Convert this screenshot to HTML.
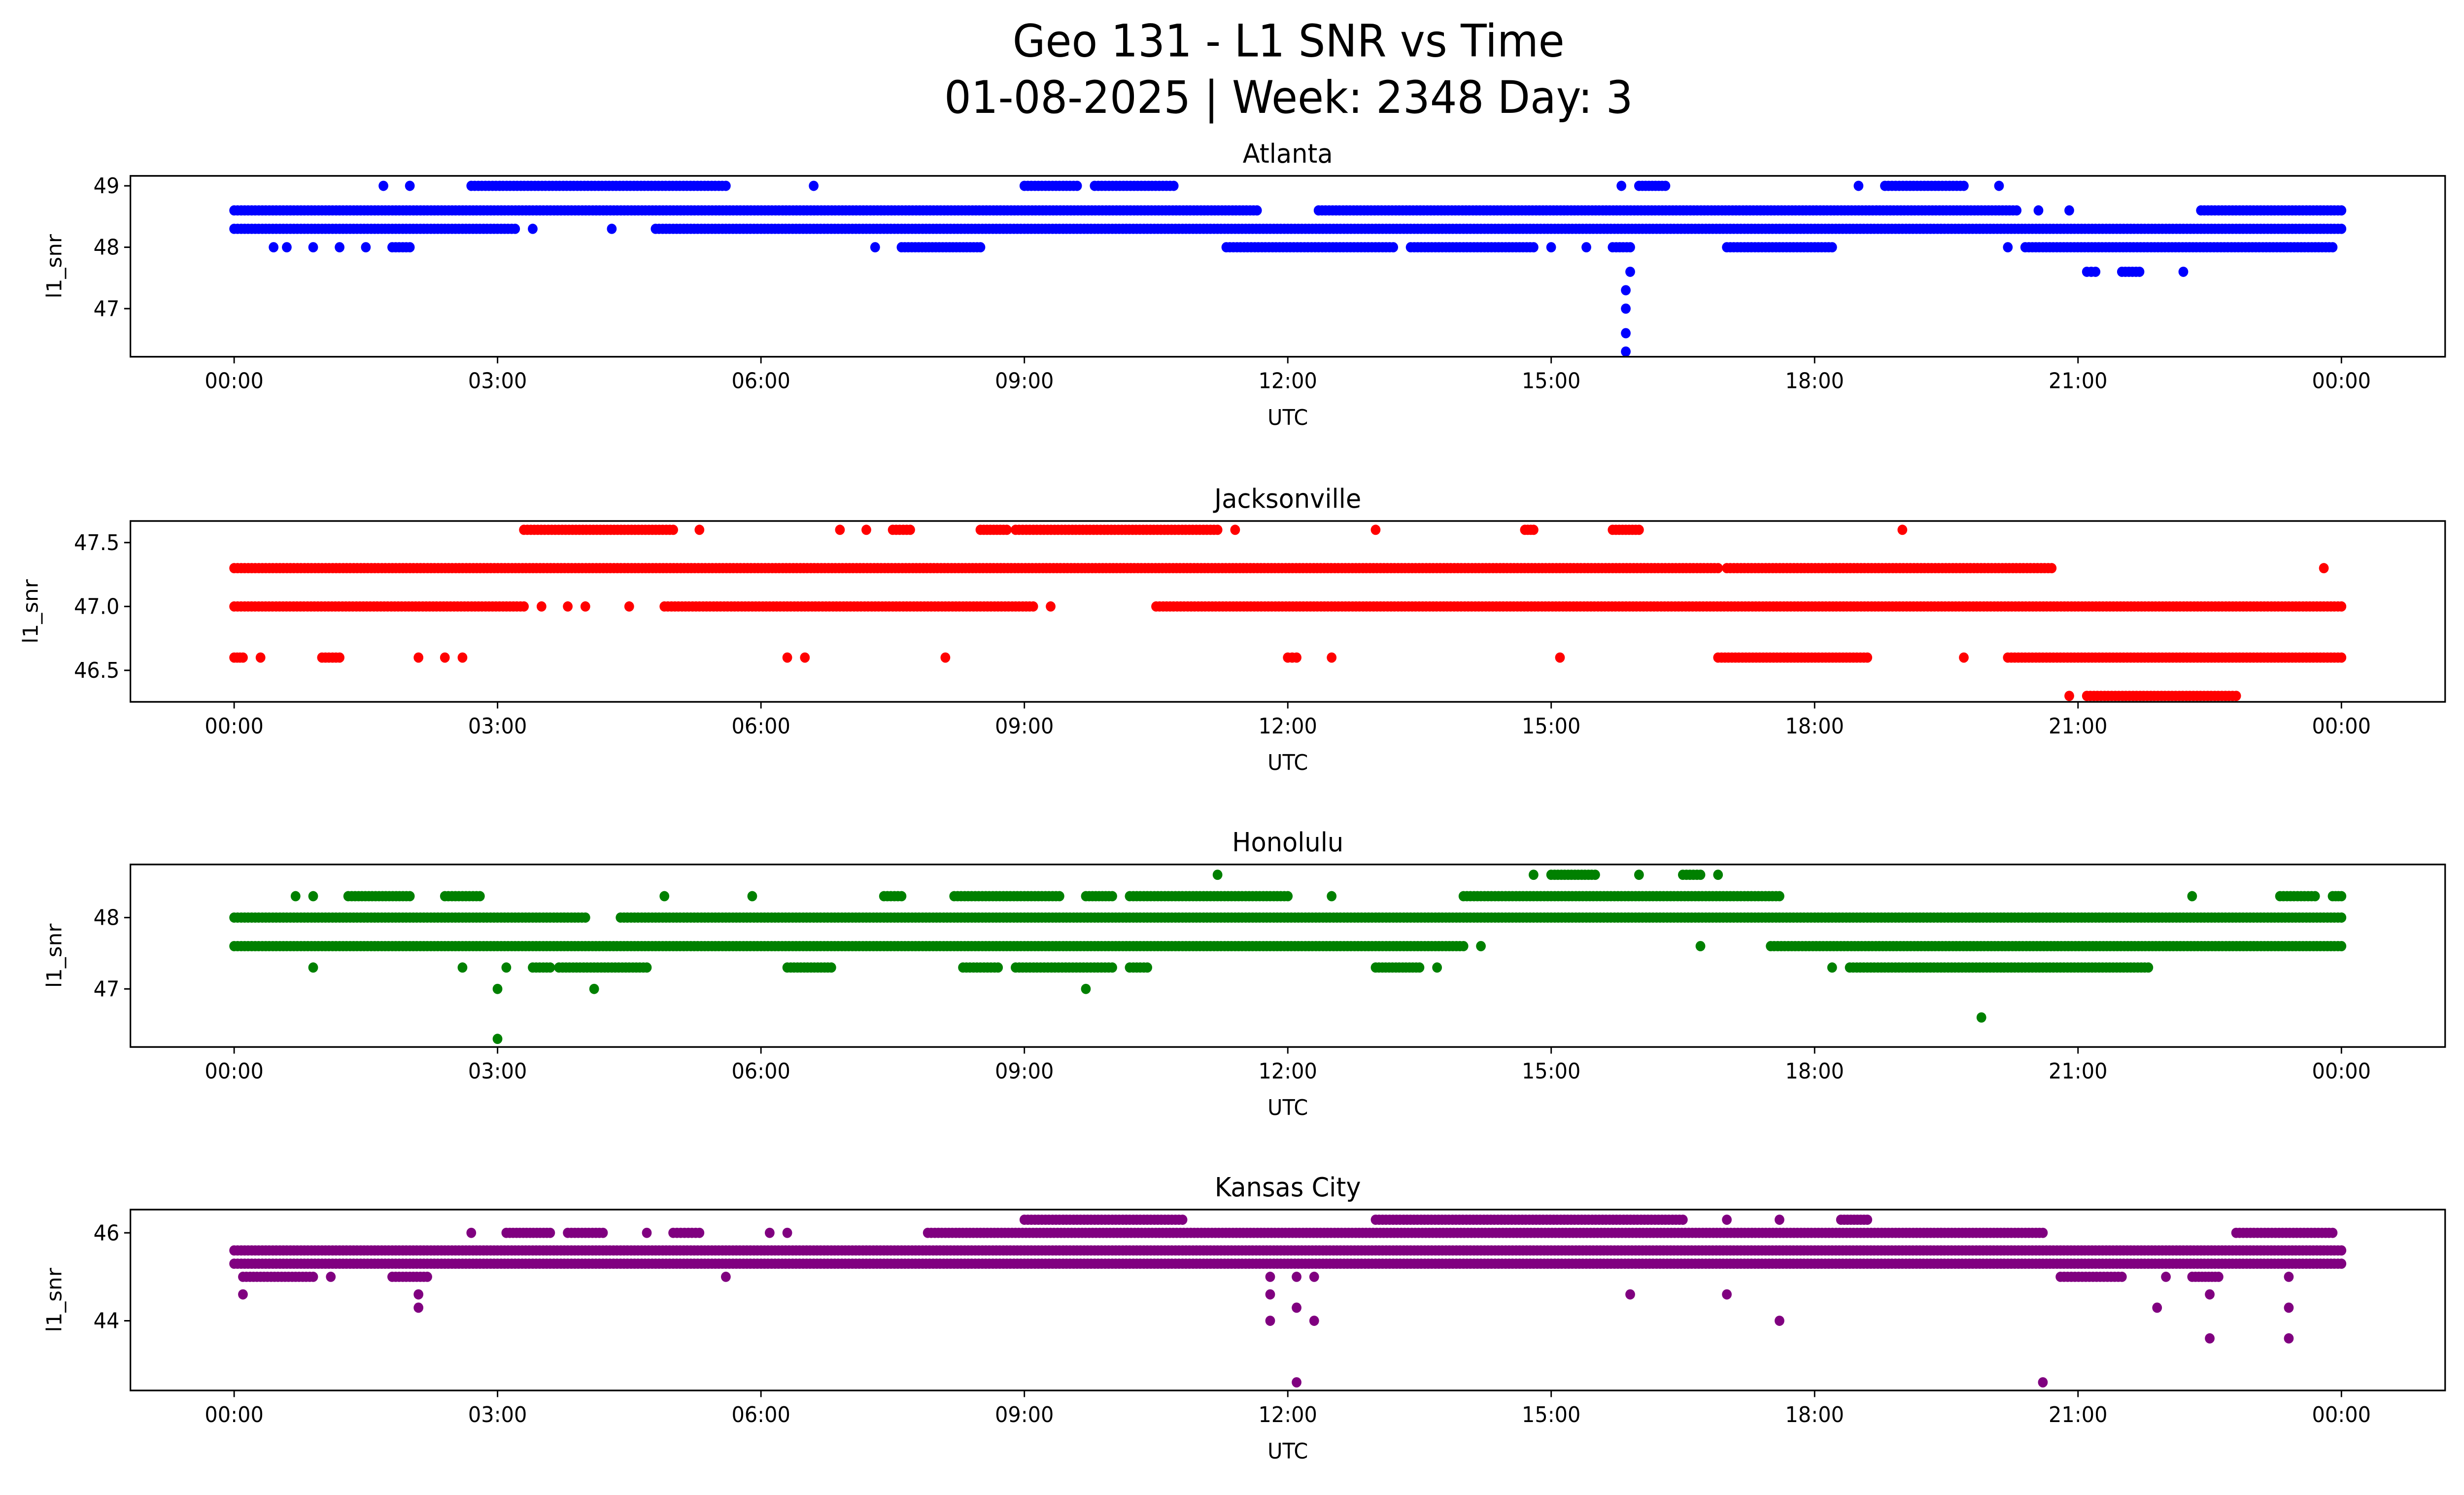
<!DOCTYPE html>
<html><head><meta charset="utf-8"><style>
html,body{margin:0;padding:0;background:#fff;width:100%;height:100%;overflow:hidden}
svg{display:block;position:absolute;left:0;top:0;width:100vw;height:100vh;font-family:"DejaVu Sans","Liberation Sans",sans-serif}
</style></head><body>
<svg id="fig" viewBox="0 0 1568 901" preserveAspectRatio="none" xmlns="http://www.w3.org/2000/svg">
<rect width="1568" height="901" fill="#fff"/>
<text x="820" y="34" font-size="27" text-anchor="middle">Geo 131 - L1 SNR vs Time</text>
<text x="820" y="68" font-size="27" text-anchor="middle">01-08-2025 | Week: 2348 Day: 3</text>
<g id="plots"></g>
</svg>
<script>
// Atlanta runs: [startHour, endHour, snr]
const atlantaRuns = [[0,11.65,48.6],[12.35,20.3,48.6],[20.55,20.55,48.6],[20.9,20.9,48.6],[22.4,24,48.6],
[0,3.2,48.3],[3.4,3.4,48.3],[4.3,4.3,48.3],[4.8,24,48.3],
[1.7,1.7,49],[2.0,2.0,49],[2.7,5.6,49],[6.6,6.6,49],[9.0,9.6,49],[9.8,10.7,49],[15.8,15.8,49],[16.0,16.3,49],[18.5,18.5,49],[18.8,19.7,49],[20.1,20.1,49],
[0.45,0.45,48],[0.6,0.6,48],[0.9,0.9,48],[1.2,1.2,48],[1.5,1.5,48],[1.8,2.0,48],[7.3,7.3,48],[7.6,8.5,48],[11.3,13.2,48],[13.4,14.8,48],[15.0,15.0,48],[15.4,15.4,48],[15.7,15.9,48],[17.0,18.2,48],[20.2,20.2,48],[20.4,23.9,48],
[15.9,15.9,47.6],[21.1,21.2,47.6],[21.5,21.7,47.6],[22.2,22.2,47.6],
[15.85,15.85,47.3],[15.85,15.85,47.0],[15.85,15.85,46.6],[15.85,15.85,46.3]];
const jacksonvilleRuns = [[3.3,5.0,47.6],[5.3,5.3,47.6],[6.9,6.9,47.6],[7.2,7.2,47.6],[7.5,7.7,47.6],[8.5,8.8,47.6],[8.9,11.2,47.6],[11.4,11.4,47.6],[13.0,13.0,47.6],[14.7,14.8,47.6],[15.7,16.0,47.6],[19.0,19.0,47.6],
[0,16.9,47.3],[17.0,20.7,47.3],[23.8,23.8,47.3],
[0,3.3,47.0],[3.5,3.5,47.0],[3.8,3.8,47.0],[4.0,4.0,47.0],[4.5,4.5,47.0],[4.9,9.1,47.0],[9.3,9.3,47.0],[10.5,24,47.0],
[0,0.1,46.6],[0.3,0.3,46.6],[1.0,1.2,46.6],[2.1,2.1,46.6],[2.4,2.4,46.6],[2.6,2.6,46.6],[6.3,6.3,46.6],[6.5,6.5,46.6],[8.1,8.1,46.6],[12.0,12.1,46.6],[12.5,12.5,46.6],[15.1,15.1,46.6],[16.9,18.6,46.6],[19.7,19.7,46.6],[20.2,24,46.6],
[20.9,20.9,46.3],[21.1,22.8,46.3]];
const honoluluRuns = [[11.2,11.2,48.6],[14.8,14.8,48.6],[15.0,15.5,48.6],[16.0,16.0,48.6],[16.5,16.7,48.6],[16.9,16.9,48.6],
[0.7,0.7,48.3],[0.9,0.9,48.3],[1.3,2.0,48.3],[2.4,2.8,48.3],[4.9,4.9,48.3],[5.9,5.9,48.3],[7.4,7.6,48.3],[8.2,9.4,48.3],[9.7,10.0,48.3],[10.2,12.0,48.3],[12.5,12.5,48.3],[14.0,17.6,48.3],[22.3,22.3,48.3],[23.3,23.7,48.3],[23.9,24,48.3],
[0,4.0,48],[4.4,24,48],
[0,14.0,47.6],[14.2,14.2,47.6],[16.7,16.7,47.6],[17.5,24,47.6],
[0.9,0.9,47.3],[2.6,2.6,47.3],[3.1,3.1,47.3],[3.4,3.6,47.3],[3.7,4.7,47.3],[6.3,6.8,47.3],[8.3,8.7,47.3],[8.9,10.0,47.3],[10.2,10.4,47.3],[13.0,13.5,47.3],[13.7,13.7,47.3],[18.2,18.2,47.3],[18.4,21.8,47.3],
[3.0,3.0,47.0],[4.1,4.1,47.0],[9.7,9.7,47.0],[19.9,19.9,46.6],[3.0,3.0,46.3]];
const kansasRuns = [[9.0,10.8,46.3],[13.0,16.5,46.3],[17.0,17.0,46.3],[17.6,17.6,46.3],[18.3,18.6,46.3],
[2.7,2.7,46],[3.1,3.6,46],[3.8,4.2,46],[4.7,4.7,46],[5.0,5.3,46],[6.1,6.1,46],[6.3,6.3,46],[7.9,20.6,46],[22.8,23.9,46],
[0,24,45.6],[0,24,45.3],
[0.1,0.9,45],[1.1,1.1,45],[1.8,2.2,45],[5.6,5.6,45],[11.8,11.8,45],[12.1,12.1,45],[12.3,12.3,45],[20.8,21.5,45],[22.0,22.0,45],[22.3,22.6,45],[23.4,23.4,45],
[0.1,0.1,44.6],[2.1,2.1,44.6],[11.8,11.8,44.6],[15.9,15.9,44.6],[17.0,17.0,44.6],[22.5,22.5,44.6],
[2.1,2.1,44.3],[12.1,12.1,44.3],[21.9,21.9,44.3],[23.4,23.4,44.3],
[11.8,11.8,44],[12.3,12.3,44],[17.6,17.6,44],[22.5,22.5,43.6],[23.4,23.4,43.6],[12.1,12.1,42.6],[20.6,20.6,42.6]];
const xTickLabels = ["00:00","03:00","06:00","09:00","12:00","15:00","18:00","21:00","00:00"];
const atlantaTicks = ["49","48","47"];
const jacksonvilleTicks = ["47.5","47.0","46.5"];
const honoluluTicks = ["48","47"];
const kansasTicks = ["46","44"];

const NS="http://www.w3.org/2000/svg";
const root=document.getElementById('plots');
function mk(tag,attrs,parent){const e=document.createElementNS(NS,tag);for(const k in attrs)e.setAttribute(k,attrs[k]);(parent||root).appendChild(e);return e;}
const panels=[
 {title:"Atlanta",runs:atlantaRuns,ticks:atlantaTicks,color:"#0000ff",top:106,bot:215,v0:49,y0:112,ppu:37,slug:"atlanta"},
 {title:"Jacksonville",runs:jacksonvilleRuns,ticks:jacksonvilleTicks,color:"#ff0000",top:314,bot:423,v0:47.5,y0:327,ppu:77,slug:"jacksonville"},
 {title:"Honolulu",runs:honoluluRuns,ticks:honoluluTicks,color:"#008000",top:521,bot:631,v0:48,y0:553,ppu:43,slug:"honolulu"},
 {title:"Kansas City",runs:kansasRuns,ticks:kansasTicks,color:"#800080",top:729,bot:838,v0:46,y0:743,ppu:26.5,slug:"kansas-city"}];
const L=83,R=1556,X0=149,X1=1490;
function xs(h){return X0+(X1-X0)*h/24;}
panels.forEach(p=>{
 const g=mk('g',{});
 
 
 const ys=v=>p.y0+(p.v0-v)*p.ppu;
 const pts=mk('g',{fill:p.color},g);
 
 
 p.runs.forEach(r=>{
   const n=Math.max(1,Math.round((r[1]-r[0])/0.04));
   for(let i=0;i<=n;i++){
     if(r[1]===r[0]&&i>0)break;
     const h=r[0]+(r[1]-r[0])*i/n;
     const c=mk('circle',{cx:xs(h).toFixed(1),cy:ys(r[2]).toFixed(1),r:3.1},pts);
     
     
   }
 });
 const fr=mk('rect',{x:L,y:p.top,width:R-L,height:p.bot-p.top,fill:'none',stroke:'#000','stroke-width':1},g);
 
 
 xTickLabels.forEach((t,i)=>{
   const x=xs(i*3);
   mk('line',{x1:x,x2:x,y1:p.bot,y2:p.bot+4,stroke:'#000','stroke-width':0.9},g);
   const tx=mk('text',{x:x,y:p.bot+19,'font-size':13,'text-anchor':'middle'},g);
   tx.textContent=t;
   
   
 });
 p.ticks.forEach(t=>{
   const y=ys(parseFloat(t));
   mk('line',{x1:L-4,x2:L,y1:y,y2:y,stroke:'#000','stroke-width':0.9},g);
   const tx=mk('text',{x:L-7,y:y+4.5,'font-size':13,'text-anchor':'end'},g);
   tx.textContent=t;
   
   
 });
 const xl=mk('text',{x:(L+R)/2,y:p.bot+41,'font-size':13,'text-anchor':'middle'},g);
 xl.textContent='UTC';
 
 
 const yc=(p.top+p.bot)/2;
 const yl=mk('text',{x:0,y:0,'font-size':13,'text-anchor':'middle',transform:`translate(${p.ticks[0].length>2?24:39},${yc}) rotate(-90)`},g);
 yl.textContent='l1_snr';
 
 
 const tt=mk('text',{x:(L+R)/2,y:p.top-8,'font-size':16,'text-anchor':'middle'},g);
 tt.textContent=p.title;
 
 
});
</script>
</body></html>
